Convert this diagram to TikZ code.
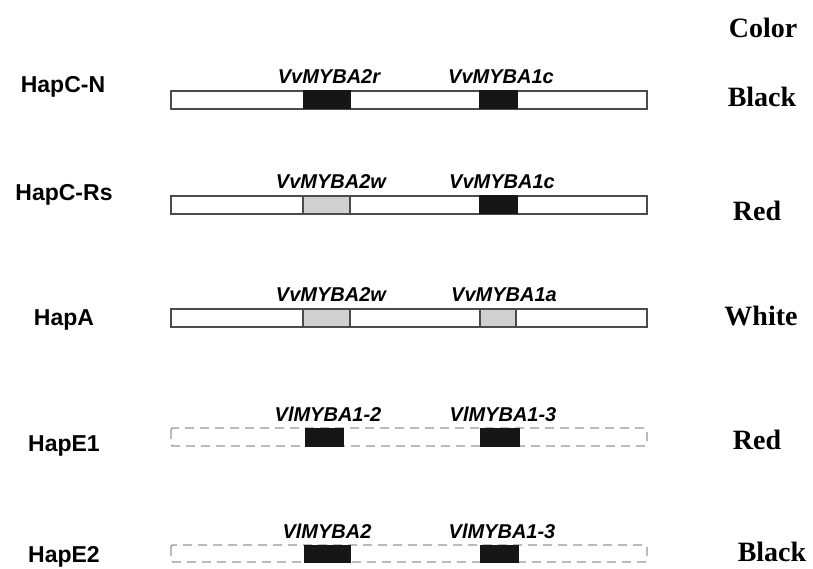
\documentclass[tikz,border=0pt]{standalone}
\usepackage{fontspec}
\setmainfont{Liberation Serif}
\setsansfont{Liberation Sans}
\usetikzlibrary{positioning}

\definecolor{boxgray}{RGB}{207,208,207}
\definecolor{boxblack}{RGB}{22,22,22}
\definecolor{edgegray}{RGB}{75,75,75}
\definecolor{dashgray}{RGB}{150,150,150}

\tikzset{
    hapname/.style = {font = \sffamily\bfseries\fontsize{23}{23}\selectfont, anchor = base},
    genename/.style = {font = \sffamily\bfseries\itshape\fontsize{20}{20}\selectfont, anchor = base},
    colorname/.style = {font = \bfseries\fontsize{28}{28}\selectfont},
    solidbar/.style = {draw = edgegray, fill = white, line width = 1.6pt},
    dashbar/.style = {draw = dashgray, line width = 1.4pt, dash pattern = on 9pt off 6pt, rounded corners = 2pt},
    blackbox/.style = {draw = boxblack, fill = boxblack, line width = 1pt},
    graybox/.style = {draw = edgegray, fill = boxgray, line width = 1.6pt}
}

\begin{document}
\begin{tikzpicture}[x = 1pt, y = -1pt]
        \useasboundingbox (0,0) rectangle (813,569);
        % gene bars
        \draw [solidbar] (171,91) rectangle (647,109);
        \draw [blackbox] (303,91) rectangle (350,109);
        \draw [blackbox] (479,91) rectangle (517,109);

        \draw [solidbar] (171,196) rectangle (647,214);
        \draw [graybox] (303,196) rectangle (350,214);
        \draw [blackbox] (479,196) rectangle (517,214);

        \draw [solidbar] (171,309) rectangle (647,327);
        \draw [graybox] (303,309) rectangle (350,327);
        \draw [graybox] (480,309) rectangle (516,327);

        \draw [dashbar] (171,428) rectangle (647,446);
        \draw [blackbox] (305,428) rectangle (343,446);
        \draw [blackbox] (480,428) rectangle (519,446);

        \draw [dashbar] (171,545) rectangle (647,562);
        \draw [blackbox] (304,545) rectangle (350,562);
        \draw [blackbox] (480,545) rectangle (518,562);
        % haplotypes
        \node [hapname] (hapCN) at (63,93) {HapC-N};
        \node [hapname] (hapCRs) at (64,201) {HapC-Rs};
        \node [hapname] (hapA) at (64,325) {HapA};
        \node [hapname] (hapEone) at (64,451) {HapE1};
        \node [hapname] (hapEtwo) at (64,562) {HapE2};
        % gene names
        \node [genename] (gCNa) at (329,84) {VvMYBA2r};
        \node [genename] (gCNb) at (501,84) {VvMYBA1c};
        \node [genename] (gCRsa) at (331,189) {VvMYBA2w};
        \node [genename] (gCRsb) at (502,189) {VvMYBA1c};
        \node [genename] (gAa) at (331,301) {VvMYBA2w};
        \node [genename] (gAb) at (504,301) {VvMYBA1a};
        \node [genename] (gEonea) at (328,421) {VlMYBA1-2};
        \node [genename] (gEoneb) at (503,421) {VlMYBA1-3};
        \node [genename] (gEtwoa) at (327,538) {VlMYBA2};
        \node [genename] (gEtwob) at (502,538) {VlMYBA1-3};
        % berry colour
        \node [colorname] (colHead) at (763,28) {Color};
        \node [colorname] (colCN) at (762,97) {Black};
        \node [colorname] (colCRs) at (757,211) {Red};
        \node [colorname] (colA) at (761,316) {White};
        \node [colorname] (colEone) at (757,440) {Red};
        \node [colorname] (colEtwo) at (772,552) {Black};
    \end{tikzpicture}
\end{document}
